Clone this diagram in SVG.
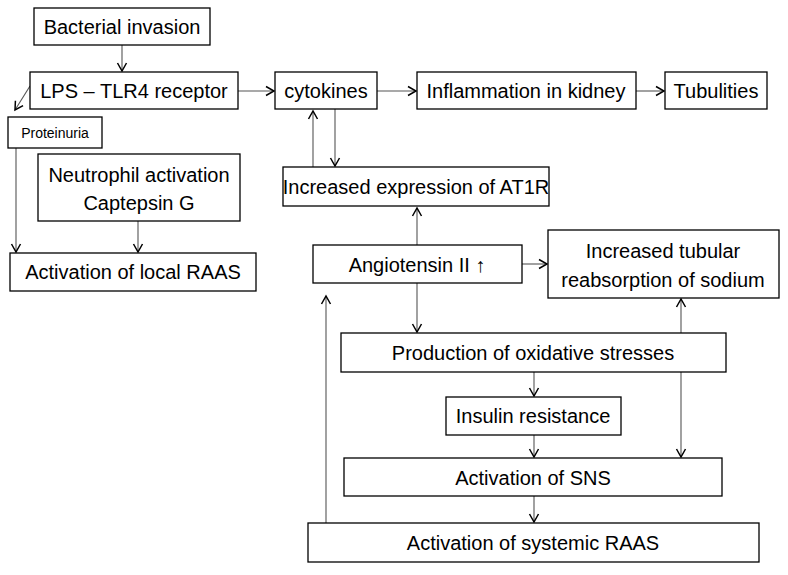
<svg xmlns="http://www.w3.org/2000/svg" width="788" height="575" viewBox="0 0 788 575">
<defs>
<marker id="a" markerWidth="12" markerHeight="12" refX="10" refY="6" orient="auto" markerUnits="userSpaceOnUse"><path d="M2,1.5 L10,6 L2,10.5" fill="none" stroke="#000" stroke-width="1.5"/></marker>
<style>
rect{fill:#fff;stroke:#000;stroke-width:1.3}
text{font-family:"Liberation Sans",Arial,sans-serif;font-size:20px;fill:#000;text-anchor:middle}
.c line{stroke:#555;stroke-width:1.1;marker-end:url(#a)}
</style>
</defs>
<rect x="0" y="0" width="788" height="575" style="stroke:none"/>
<g class="c">
<line x1="122" y1="45" x2="122" y2="71"/>
<line x1="30" y1="86" x2="15" y2="110"/>
<line x1="238" y1="91" x2="274" y2="91"/>
<line x1="377" y1="91" x2="416" y2="91"/>
<line x1="636" y1="91" x2="664" y2="91"/>
<line x1="313" y1="167" x2="313" y2="111"/>
<line x1="335" y1="109" x2="335" y2="166"/>
<line x1="16" y1="148" x2="16" y2="252"/>
<line x1="138" y1="221" x2="138" y2="252"/>
<line x1="417" y1="245" x2="417" y2="208"/>
<line x1="522" y1="264" x2="547" y2="264"/>
<line x1="417" y1="283" x2="417" y2="332"/>
<line x1="681" y1="333" x2="681" y2="299"/>
<line x1="681" y1="372" x2="681" y2="457"/>
<line x1="534" y1="372" x2="534" y2="396"/>
<line x1="534" y1="435" x2="534" y2="457"/>
<line x1="534" y1="496" x2="534" y2="522"/>
<line x1="326" y1="523" x2="326" y2="296"/>
</g>
<g id="bacterial"><rect x="34" y="8" width="176" height="37"/><text x="122" y="34">Bacterial invasion</text></g>
<g id="lps"><rect x="30" y="72" width="208" height="37"/><text x="134" y="98">LPS – TLR4 receptor</text></g>
<g id="cytokines"><rect x="275" y="72" width="102" height="37"/><text x="326" y="98">cytokines</text></g>
<g id="inflammation"><rect x="417" y="72" width="219" height="37"/><text x="526" y="98">Inflammation in kidney</text></g>
<g id="tubulities"><rect x="665" y="72" width="102" height="37"/><text x="716" y="98">Tubulities</text></g>
<g id="proteinuria"><rect x="8" y="117" width="94" height="31"/><text x="55" y="138" style="font-size:14px">Proteinuria</text></g>
<g id="neutrophil"><rect x="38" y="154" width="202" height="67"/><text x="139" y="182">Neutrophil activation</text><text x="139" y="210">Captepsin G</text></g>
<g id="localraas"><rect x="10" y="253" width="246" height="38"/><text x="133" y="279">Activation of local RAAS</text></g>
<g id="at1r"><rect x="283" y="167" width="266" height="39"/><text x="416" y="194">Increased expression of AT1R</text></g>
<g id="angiotensin"><rect x="313" y="245" width="209" height="38"/><text x="417" y="272">Angiotensin II ↑</text></g>
<g id="tubular"><rect x="548" y="230" width="231" height="68"/><text x="663" y="258">Increased tubular</text><text x="663" y="287">reabsorption of sodium</text></g>
<g id="oxidative"><rect x="341" y="333" width="385" height="39"/><text x="533" y="360">Production of oxidative stresses</text></g>
<g id="insulin"><rect x="446" y="397" width="175" height="38"/><text x="533" y="423">Insulin resistance</text></g>
<g id="sns"><rect x="344" y="458" width="378" height="38"/><text x="533" y="485">Activation of SNS</text></g>
<g id="systemic"><rect x="308" y="523" width="451" height="39"/><text x="533" y="550">Activation of systemic RAAS</text></g>
</svg>
